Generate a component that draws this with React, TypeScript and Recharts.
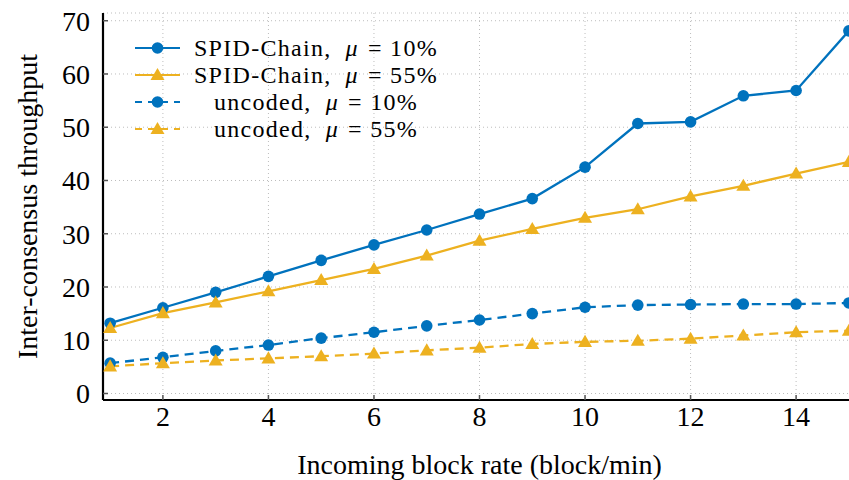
import { CartesianGrid, Label, Line, LineChart, XAxis, YAxis } from "recharts";

const rates = [1, 2, 3, 4, 5, 6, 7, 8, 9, 10, 11, 12, 13, 14, 15];
const spid10 = [13.2, 16.1, 19.0, 22.0, 25.0, 27.9, 30.7, 33.7, 36.6, 42.5, 50.7, 51.0, 55.9, 56.9, 68.1];
const spid55 = [12.3, 15.1, 17.1, 19.2, 21.3, 23.4, 25.9, 28.7, 30.9, 33.0, 34.6, 37.0, 39.0, 41.3, 43.5];
const unc10 = [5.7, 6.8, 8.0, 9.1, 10.4, 11.5, 12.7, 13.8, 15.0, 16.2, 16.6, 16.7, 16.8, 16.8, 17.0];
const unc55 = [5.1, 5.7, 6.2, 6.6, 7.0, 7.5, 8.1, 8.6, 9.3, 9.7, 9.9, 10.3, 10.9, 11.5, 11.8];

const xTicks = [2, 4, 6, 8, 10, 12, 14];
const yTicks = [0, 10, 20, 30, 40, 50, 60, 70];

const BLUE = "#0072BD";
const GOLD = "#EDB120";
const FONT = "'Liberation Serif', 'DejaVu Serif', serif";

const data = rates.map((r, i) => ({
  rate: r,
  spid10: spid10[i],
  spid55: spid55[i],
  unc10: unc10[i],
  unc55: unc55[i],
}));

const series = [
  { key: "spid10", name: "SPID-Chain,", mu: "10%", color: BLUE, dashed: false, shape: "circle" },
  { key: "spid55", name: "SPID-Chain,", mu: "55%", color: GOLD, dashed: false, shape: "triangle" },
  { key: "unc10", name: "uncoded,", mu: "10%", color: BLUE, dashed: true, shape: "circle" },
  { key: "unc55", name: "uncoded,", mu: "55%", color: GOLD, dashed: true, shape: "triangle" },
];

function Marker({ cx, cy, color, shape }: { cx: number; cy: number; color: string; shape: string }) {
  if (shape === "circle") return <circle cx={cx} cy={cy} r={5.8} fill={color} />;
  const s = 7;
  return (
    <polygon
      points={`${cx},${cy - s} ${cx - s},${cy + s * 0.72} ${cx + s},${cy + s * 0.72}`}
      fill={color}
    />
  );
}

const piece = { display: "inline-block", lineHeight: "26px" } as const;

// legend drawn on top of the plot, like the pgfplots box without frame
function LegendBox() {
  return (
    <div
      style={{
        position: "absolute",
        left: 133,
        top: 34,
        fontFamily: FONT,
        fontSize: 24,
        letterSpacing: 1.3,
        color: "#000",
      }}
    >
      {series.map((s) => (
        <div key={s.key} style={{ display: "flex", alignItems: "center", height: 27 }}>
          <svg width={50} height={20} style={{ flex: "none" }}>
            <line
              x1={2}
              x2={47}
              y1={10}
              y2={10}
              stroke={s.color}
              strokeWidth={2.2}
              strokeDasharray={s.dashed ? "7 6" : undefined}
            />
            <Marker cx={24.5} cy={10} color={s.color} shape={s.shape} />
          </svg>
          <div style={{ width: 266, display: "flex", justifyContent: "center", whiteSpace: "nowrap" }}>
            <span style={{ ...piece, marginRight: 14 }}>{s.name}</span>
            <span style={{ ...piece, fontStyle: "italic", marginRight: 9 }}>μ</span>
            <span style={piece}>=&nbsp;{s.mu}</span>
          </div>
        </div>
      ))}
    </div>
  );
}

export default function App() {
  return (
    <div
      style={{
        position: "absolute",
        left: 0,
        top: 0,
        width: 849,
        height: 480,
        overflow: "hidden",
        background: "#fff",
      }}
    >
      <LineChart
        width={870}
        height={480}
        data={data}
        margin={{ top: 13, right: 14, bottom: 0, left: 43 }}
        style={{ fontFamily: FONT }}
      >
        <CartesianGrid stroke="#bdbdbd" strokeDasharray="1 3" />
        <XAxis
          dataKey="rate"
          type="number"
          domain={[0.865, 15.135]}
          ticks={xTicks}
          allowDataOverflow
          height={80}
          tick={{ fill: "#000", fontSize: 28 }}
          tickSize={-5}
          tickMargin={11}
          tickLine={{ stroke: "#555", strokeWidth: 1.5 }}
          axisLine={{ stroke: "#000", strokeWidth: 2.2 }}
        >
          <Label
            value="Incoming block rate (block/min)"
            position="insideBottom"
            offset={6}
            style={{ fill: "#000", fontSize: 28, fontFamily: FONT }}
          />
        </XAxis>
        <YAxis
          type="number"
          domain={[-1.22, 71.45]}
          ticks={yTicks}
          allowDataOverflow
          width={60}
          tick={{ fill: "#000", fontSize: 28 }}
          tickSize={-5}
          tickMargin={18}
          tickLine={{ stroke: "#555", strokeWidth: 1.5 }}
          axisLine={{ stroke: "#000", strokeWidth: 2.2 }}
        >
          <Label
            value="Inter-consensus throughput"
            angle={-90}
            position="center"
            dx={-46}
            style={{ fill: "#000", fontSize: 28, fontFamily: FONT, textAnchor: "middle" }}
          />
        </YAxis>
        {series.map((s) => (
          <Line
            key={s.key}
            type="linear"
            dataKey={s.key}
            stroke={s.color}
            strokeWidth={2.3}
            strokeDasharray={s.dashed ? "9 6" : undefined}
            isAnimationActive={false}
            dot={(p: any) => (
              <Marker key={`${s.key}-${p.index}`} cx={p.cx} cy={p.cy} color={s.color} shape={s.shape} />
            )}
            activeDot={false}
          />
        ))}
      </LineChart>
      <LegendBox />
    </div>
  );
}
